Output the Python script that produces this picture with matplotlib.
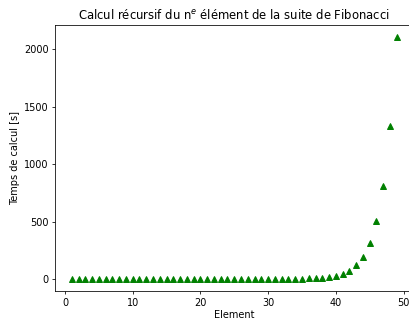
import matplotlib
matplotlib.use("Agg")
import matplotlib.pyplot as plt

elements = list(range(1, 50))
temps = [0.0, 0.0, 0.0, 0.0, 0.0, 0.0, 0.0, 0.0, 0.0, 0.0,
         0.0, 0.0, 0.0, 0.0, 0.0, 0.0, 0.0, 0.0, 0.0, 0.01,
         0.01, 0.02, 0.03, 0.05, 0.08, 0.1, 0.15, 0.25, 0.4, 0.6,
         0.9, 1.2, 1.6, 2.1, 2.8, 3.8, 6, 10, 16, 27,
         42, 73, 117, 190, 311, 504, 812, 1335, 2108]

fig = plt.figure(figsize=(409 / 70, 320 / 70), dpi=70)
ax = fig.add_axes([55.5 / 409, 29 / 320, (413 - 55.5) / 409, (291 - 25) / 320])
ax.plot(elements, temps, 'g^')
ax.set_title("Calcul récursif du n$^e$ élément de la suite de Fibonacci")
ax.set_xlabel("Element", labelpad=2.5)
ax.set_ylabel("Temps de calcul [s]")
fig.savefig("out.png", dpi=70)
